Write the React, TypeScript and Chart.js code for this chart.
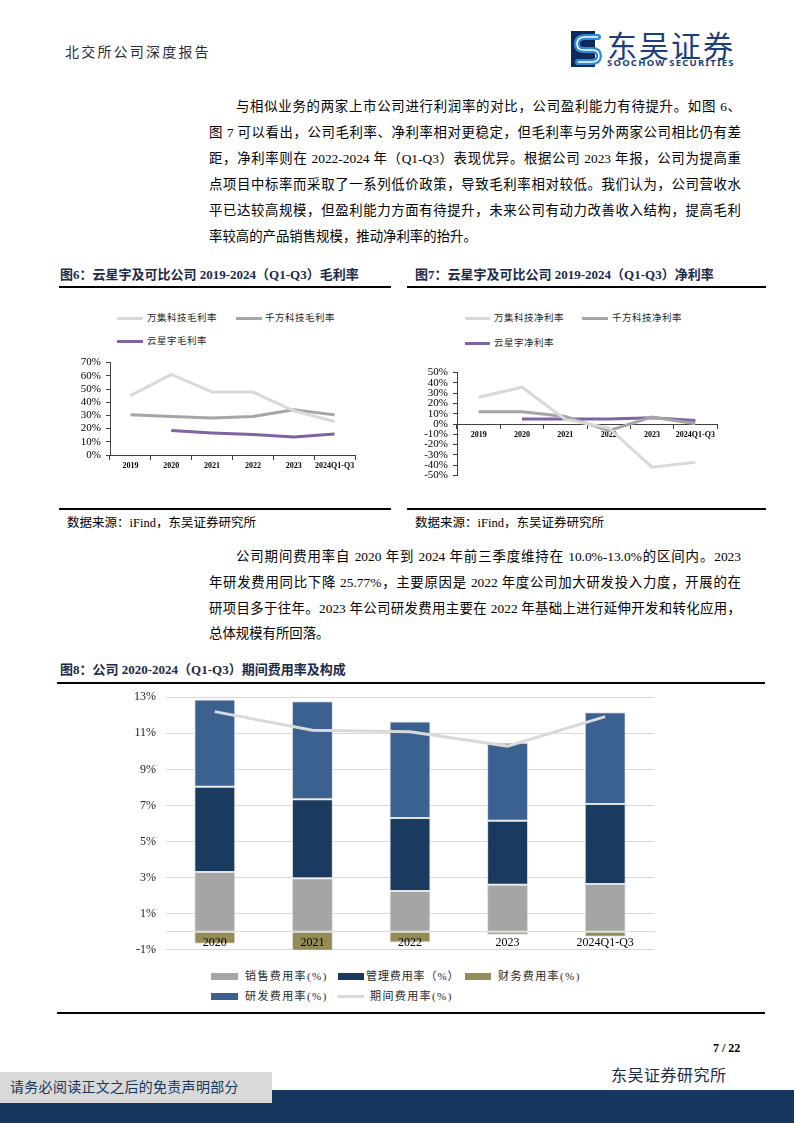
import React, { useEffect, useRef } from "react";
import { Chart, registerables } from "chart.js";

Chart.register(...registerables);

// ---------- data ----------
const years6 = ["2019", "2020", "2021", "2022", "2023", "2024Q1-Q3"];
const wanjiGross = [45, 61, 47.7, 47.7, 33.5, 25.4];
const qianfangGross = [30.4, 29.2, 28, 29.2, 34.2, 30.4];
const yunxingyuGross = [null, 18.5, 16.7, 15.5, 13.7, 16];

const wanjiNet = [26, 35.8, 4.5, -3.9, -42, -37.2];
const qianfangNet = [11.9, 11.9, 7.4, -6.5, 6.8, 0.3];
const yunxingyuNet = [null, 4.8, 4.8, 4.8, 6.1, 3.5];

const years8 = ["2020", "2021", "2022", "2023", "2024Q1-Q3"];
const salesRate = [3.31, 2.96, 2.26, 2.6, 2.64];
const adminRate = [4.73, 4.38, 4.04, 3.55, 4.44];
const rdRate = [4.83, 5.44, 5.36, 4.33, 5.08];
const financeRate = [-0.66, -1.61, -0.6, -0.17, -0.28];
const periodRate = [12.2, 11.17, 11.09, 10.29, 11.92];

// ---------- styles ----------
const serif = "'Liberation Serif', 'Times New Roman', serif";
const bodyFont = "'Liberation Serif', 'Noto Sans CJK SC', serif";
const C_WANJI = "#d9d9d9";
const C_QIANFANG = "#a5a5a5";
const C_YXY = "#8064a2";
const C_SALES = "#a5a5a5";
const C_ADMIN = "#1b3a5f";
const C_RD = "#3a6190";
const C_FIN = "#958b55";
const C_PERIOD = "#d9d9d9";
const NAVY = "#17375e";

function ChartBox({ left, top, width, height, make }: any) {
  const ref = useRef<HTMLCanvasElement>(null);
  useEffect(() => {
    const chart = new Chart(ref.current as HTMLCanvasElement, make());
    return () => chart.destroy();
  }, []);
  return (
    <canvas
      ref={ref}
      width={width}
      height={height}
      style={{ position: "absolute", left, top, width, height }}
    />
  );
}

function smallLine(datasets: any[], min: number, max: number, yWidth: number, padding: any) {
  return {
    type: "line",
    data: { labels: years6, datasets },
    options: {
      responsive: false,
      animation: false,
      layout: { padding },
      plugins: { legend: { display: false }, tooltip: { enabled: false } },
      elements: { point: { radius: 0 }, line: { tension: 0 } },
      scales: {
        x: {
          position: { y: 0 },
          offset: true,
          grid: { drawOnChartArea: false, drawTicks: true, tickLength: 4, color: "#404040", offset: true },
          border: { display: true, color: "#404040", width: 1 },
          ticks: {
            font: { family: serif, size: 8, weight: "bold" },
            color: "#000",
            padding: 2,
            maxRotation: 0,
            minRotation: 0,
            autoSkip: false,
          },
        },
        y: {
          min,
          max,
          ticks: {
            stepSize: 10,
            autoSkip: false,
            callback: (v: any) => v + "%",
            font: { family: serif, size: 11 },
            color: "#000",
            padding: 5,
          },
          grid: { drawOnChartArea: false, drawTicks: true, tickLength: 4, color: "#404040" },
          border: { display: true, color: "#404040", width: 1 },
          afterFit: (s: any) => {
            s.width = yWidth;
          },
        },
      },
    },
  };
}

function lineDs(label: string, data: any[], color: string) {
  return { label, data, borderColor: color, backgroundColor: color, borderWidth: 3, pointRadius: 0, fill: false };
}

const makeGross = () =>
  smallLine(
    [
      lineDs("万集科技毛利率", wanjiGross, C_WANJI),
      lineDs("千方科技毛利率", qianfangGross, C_QIANFANG),
      lineDs("云星宇毛利率", yunxingyuGross, C_YXY),
    ],
    0,
    70,
    50,
    { left: 0, right: 15, top: 0, bottom: 20 }
  );

const makeNet = () =>
  smallLine(
    [
      lineDs("万集科技净利率", wanjiNet, C_WANJI),
      lineDs("千方科技净利率", qianfangNet, C_QIANFANG),
      lineDs("云星宇净利率", yunxingyuNet, C_YXY),
    ],
    -50,
    50,
    47,
    { left: 0, right: 18, top: 0, bottom: 0 }
  );

const barDs = (label: string, data: number[], color: string) => ({
  label,
  data,
  backgroundColor: color,
  borderColor: "rgba(225,225,225,1)",
  borderWidth: 1,
  borderSkipped: false,
  stack: "cost",
  order: 1,
});

const makeCost = () => ({
  type: "bar",
  data: {
    labels: years8,
    datasets: [
      {
        type: "line",
        label: "期间费用率(%)",
        data: periodRate,
        borderColor: C_PERIOD,
        backgroundColor: C_PERIOD,
        borderWidth: 3,
        pointRadius: 0,
        tension: 0,
        stack: "period",
        order: 0,
      },
      barDs("销售费用率(%)", salesRate, C_SALES),
      barDs("管理费用率（%）", adminRate, C_ADMIN),
      barDs("研发费用率(%)", rdRate, C_RD),
      barDs("财务费用率(%)", financeRate, C_FIN),
    ],
  },
  options: {
    responsive: false,
    animation: false,
    layout: { padding: { left: 0, right: 26, top: 0, bottom: 0 } },
    plugins: { legend: { display: false }, tooltip: { enabled: false } },
    datasets: { bar: { categoryPercentage: 1, barPercentage: 0.42 } },
    scales: {
      x: {
        stacked: true,
        position: { y: 0 },
        grid: { display: false, drawTicks: false },
        border: { display: true, color: "#d9d9d9", width: 1 },
        ticks: {
          z: 1,
          font: { family: serif, size: 12 },
          color: "#000",
          padding: 4,
          maxRotation: 0,
          minRotation: 0,
          autoSkip: false,
        },
      },
      y: {
        stacked: true,
        min: -1,
        max: 13,
        ticks: {
          stepSize: 2,
          autoSkip: false,
          callback: (v: any) => v + "%",
          font: { family: serif, size: 12 },
          color: "#222",
          padding: 10,
        },
        grid: { color: "#d9d9d9", lineWidth: 1, drawTicks: false },
        border: { display: false },
        afterFit: (s: any) => {
          s.width = 66;
        },
      },
    },
  },
});

// ---------- text helpers ----------
function T({ x, y, w, size = 14, lh, children, justify, bold, color = "#000", ls = 0, family = bodyFont, nowrap }: any) {
  const lineH = lh || Math.round(size * 1.5);
  return (
    <div
      style={{
        position: "absolute",
        left: x,
        top: y - lineH / 2,
        width: w,
        height: lineH,
        fontSize: size,
        lineHeight: `${lineH}px`,
        fontFamily: family,
        fontWeight: bold ? "bold" : "normal",
        color,
        letterSpacing: ls,
        whiteSpace: nowrap ? "nowrap" : "normal",
        textAlign: justify ? "justify" : "left",
        textAlignLast: justify ? "justify" : "auto",
      } as any}
    >
      {children}
    </div>
  );
}

function Rule({ x, y, w, h = 2, color = "#000" }: any) {
  return <div style={{ position: "absolute", left: x, top: y - h / 2, width: w, height: h, background: color }} />;
}

function LegLine({ x, y, w, color, h = 3 }: any) {
  return <div style={{ position: "absolute", left: x, top: y - h / 2, width: w, height: h, background: color }} />;
}

const para1 = [
  "与相似业务的两家上市公司进行利润率的对比，公司盈利能力有待提升。如图 6、",
  "图 7 可以看出，公司毛利率、净利率相对更稳定，但毛利率与另外两家公司相比仍有差",
  "距，净利率则在 2022-2024 年（Q1-Q3）表现优异。根据公司 2023 年报，公司为提高重",
  "点项目中标率而采取了一系列低价政策，导致毛利率相对较低。我们认为，公司营收水",
  "平已达较高规模，但盈利能力方面有待提升，未来公司有动力改善收入结构，提高毛利",
  "率较高的产品销售规模，推动净利率的抬升。",
];
const para1Y = [107, 133, 159, 185, 211, 237];

const para2 = [
  "公司期间费用率自 2020 年到 2024 年前三季度维持在 10.0%-13.0%的区间内。2023",
  "年研发费用同比下降 25.77%，主要原因是 2022 年度公司加大研发投入力度，开展的在",
  "研项目多于往年。2023 年公司研发费用主要在 2022 年基础上进行延伸开发和转化应用，",
  "总体规模有所回落。",
];
const para2Y = [557, 583, 609, 634];

function Paragraph({ lines, ys }: any) {
  const left = 209;
  const right = 741;
  return (
    <>
      {lines.map((s: string, i: number) => {
        const last = i === lines.length - 1;
        const x = i === 0 ? left + 27 : left;
        return (
          <T key={i} x={x} y={ys[i]} w={right - x} size={13.4} lh={22} justify={!last}>
            {s}
          </T>
        );
      })}
    </>
  );
}

export default function App() {
  const capColor = "#1b2a4a";
  const legFont = "'Liberation Serif', 'Noto Sans CJK SC', serif";
  return (
    <div
      style={{
        position: "absolute",
        left: 0,
        top: 0,
        width: 794,
        height: 1123,
        overflow: "hidden",
        background: "#fff",
        fontFamily: bodyFont,
      }}
    >
      {/* header */}
      <T x={65} y={52} size={14} ls={2.2} color="#2a2a3a" nowrap>
        北交所公司深度报告
      </T>
      <svg style={{ position: "absolute", left: 571, top: 31 }} width={34} height={36} viewBox="0 0 34 36">
        <rect x={0} y={0} width={24} height={36} fill="#0e2a5c" />
        <path d="M27 6 L14 6 Q6 6 6 13 Q6 19 13 19 L21 19 Q28 19 28 25 Q28 31 20 31 L7 31" stroke="#2f8ad8" strokeWidth={6} fill="none" strokeLinecap="round" />
        <path d="M27 6 L14 6 Q6 6 6 13 Q6 19 13 19 L21 19 Q28 19 28 25 Q28 31 20 31 L7 31" stroke="#ffffff" strokeWidth={1.5} fill="none" />
      </svg>
      <T x={607} y={44} size={30} lh={34} ls={2} color="#1c3f7c" family="'Noto Sans CJK SC', sans-serif" nowrap>
        东吴证券
      </T>
      <T x={607} y={63} size={9.5} lh={12} ls={1.2} bold color="#1c3f7c" family="'Noto Sans', sans-serif" nowrap>
        SOOCHOW SECURITIES
      </T>

      {/* paragraph 1 */}
      <Paragraph lines={para1} ys={para1Y} />

      {/* fig 6 / 7 captions */}
      <T x={60} y={275} size={13} bold color={capColor} nowrap>
        图6：云星宇及可比公司 2019-2024（Q1-Q3）毛利率
      </T>
      <Rule x={59} y={287} w={332} />
      <T x={415} y={275} size={13} bold color={capColor} nowrap>
        图7：云星宇及可比公司 2019-2024（Q1-Q3）净利率
      </T>
      <Rule x={407} y={287} w={359} />

      {/* fig 6 legend */}
      <LegLine x={117} y={318} w={26} color={C_WANJI} />
      <T x={147} y={318} size={9.5} ls={0.5} color="#262626" family={legFont} nowrap>万集科技毛利率</T>
      <LegLine x={236} y={318} w={26} color={C_QIANFANG} />
      <T x={265} y={318} size={9.5} ls={0.5} color="#262626" family={legFont} nowrap>千方科技毛利率</T>
      <LegLine x={117} y={341} w={26} color={C_YXY} />
      <T x={147} y={341} size={9.5} ls={0.5} color="#262626" family={legFont} nowrap>云星宇毛利率</T>

      {/* fig 7 legend */}
      <LegLine x={465} y={318} w={25} color={C_WANJI} />
      <T x={494} y={318} size={9.5} ls={0.5} color="#262626" family={legFont} nowrap>万集科技净利率</T>
      <LegLine x={582} y={318} w={26} color={C_QIANFANG} />
      <T x={612} y={318} size={9.5} ls={0.5} color="#262626" family={legFont} nowrap>千方科技净利率</T>
      <LegLine x={465} y={343} w={25} color={C_YXY} />
      <T x={494} y={343} size={9.5} ls={0.5} color="#262626" family={legFont} nowrap>云星宇净利率</T>

      <ChartBox left={60} top={351} width={310} height={124} make={makeGross} />
      <ChartBox left={410} top={361} width={325} height={126} make={makeNet} />

      <Rule x={59} y={509} w={332} h={1.5} />
      <Rule x={407} y={509} w={359} h={1.5} />
      <T x={67} y={523} size={12.5} nowrap>数据来源：iFind，东吴证券研究所</T>
      <T x={415} y={523} size={12.5} nowrap>数据来源：iFind，东吴证券研究所</T>

      {/* paragraph 2 */}
      <Paragraph lines={para2} ys={para2Y} />

      {/* fig 8 */}
      <T x={60} y={670} size={13} bold color={capColor} nowrap>
        图8：公司 2020-2024（Q1-Q3）期间费用率及构成
      </T>
      <Rule x={57} y={683} w={708} />
      <ChartBox left={100} top={680} width={580} height={287} make={makeCost} />

      {/* fig 8 legend */}
      <LegLine x={211} y={976} w={27} h={7} color={C_SALES} />
      <T x={245} y={976} size={11} ls={1.4} color="#262626" family={legFont} nowrap>销售费用率(%)</T>
      <LegLine x={338} y={976} w={26} h={7} color={C_ADMIN} />
      <T x={366} y={976} size={11} ls={0.9} color="#262626" family={legFont} nowrap>管理费用率（%）</T>
      <LegLine x={465} y={976} w={26} h={7} color={C_FIN} />
      <T x={498} y={976} size={11} ls={1.4} color="#262626" family={legFont} nowrap>财务费用率(%)</T>
      <LegLine x={211} y={996} w={27} h={7} color={C_RD} />
      <T x={245} y={996} size={11} ls={1.4} color="#262626" family={legFont} nowrap>研发费用率(%)</T>
      <LegLine x={338} y={996} w={26} h={3} color={C_PERIOD} />
      <T x={370} y={996} size={11} ls={1.4} color="#262626" family={legFont} nowrap>期间费用率(%)</T>

      <Rule x={57} y={1013} w={708} h={1.5} />

      {/* footer */}
      <T x={713} y={1048} size={12} bold family={serif} nowrap>7 / 22</T>
      <T x={611} y={1076} size={16} ls={0.5} color="#1b2a4a" nowrap>东吴证券研究所</T>
      <div style={{ position: "absolute", left: 0, top: 1090, width: 794, height: 33, background: NAVY }} />
      <div style={{ position: "absolute", left: 0, top: 1072, width: 272, height: 31, background: "#d9d9d9" }} />
      <T x={10} y={1087} size={14} ls={0.3} color={NAVY} nowrap>请务必阅读正文之后的免责声明部分</T>
    </div>
  );
}
